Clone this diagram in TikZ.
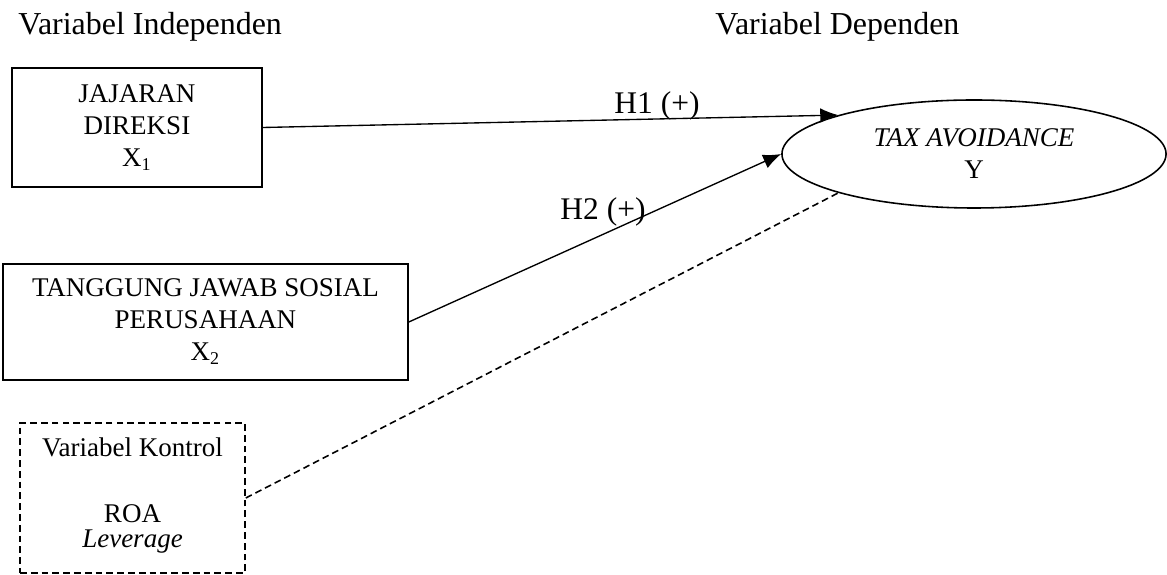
\documentclass[tikz,border=0pt]{standalone}
\usepackage{fontspec}
\setmainfont{Liberation Serif}
\usetikzlibrary{arrows.meta,shapes.geometric}
\begin{document}
\begin{tikzpicture}[x=0.4444pt,y=-0.4444pt,
  box/.style={draw,line width=0.7pt,rectangle,align=center,inner sep=0pt,
    font=\fontsize{12}{14.2}\selectfont},
  dbox/.style={draw,line width=0.7pt,dash pattern=on 3pt off 1.8pt,rectangle,inner sep=0pt},
  inner/.style={font=\fontsize{12}{14.2}\selectfont,inner sep=0pt,anchor=base},
  title/.style={font=\fontsize{14.2}{17}\selectfont,inner sep=0pt,anchor=base west},
  hyp/.style={font=\fontsize{14}{17}\selectfont,inner sep=0pt,anchor=base},
  link/.style={line width=0.6pt,-{Latex[length=8pt,width=6.5pt]}},
  ctrl/.style={line width=0.7pt,dash pattern=on 3pt off 1.8pt}]
\useasboundingbox (0,0) rectangle (1167,575);

% column headings
\node[title] (hind) at (18,35) {Variabel Independen};
\node[title] (hdep) at (715,35) {Variabel Dependen};

% independent variables
\node[box,minimum width=111.1pt,minimum height=52.9pt] (dir) at (137,127.5)
  {JAJARAN\\DIREKSI\\X\textsubscript{1}};
\node[box,minimum width=180pt,minimum height=51.6pt] (csr) at (205.5,322)
  {TANGGUNG JAWAB SOSIAL\\PERUSAHAAN\\X\textsubscript{2}};

% control variables
\node[dbox,minimum width=100pt,minimum height=66.7pt] (ctl) at (132.5,498) {};
\node[inner] (ctlt) at (132.5,457) {Variabel Kontrol};
\node[inner] (roa) at (132.5,522) {ROA};
\node[inner] (lev) at (132.5,547) {\textit{Leverage}};

% dependent variable
\node[draw,line width=0.7pt,ellipse,minimum width=170.7pt,minimum height=48pt,
  inner sep=0pt,align=center,font=\fontsize{12}{14.2}\selectfont] (tax) at (974,154)
  {\textit{TAX AVOIDANCE}\\Y};

% hypotheses
\draw[link] (dir.east) -- (tax.164);
\draw[link] (csr.east) -- (tax.west);
\draw[ctrl] (ctl.east) -- (tax.196);

\node[hyp] (h1) at (657,114) {H1 (+)};
\node[hyp] (h2) at (603,220) {H2 (+)};
\end{tikzpicture}
\end{document}
